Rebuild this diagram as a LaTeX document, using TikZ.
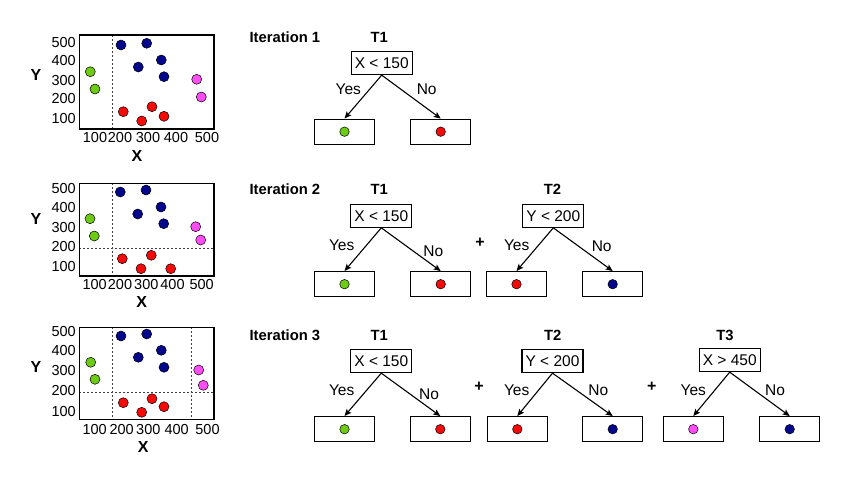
\documentclass[tikz,border=0pt]{standalone}
\usepackage{fontspec}
\setmainfont{Liberation Sans}
\usetikzlibrary{arrows.meta}
\definecolor{dgreen}{HTML}{6CCB12}
\definecolor{dblue}{HTML}{04068C}
\definecolor{dred}{HTML}{F50A0A}
\definecolor{dmag}{HTML}{FF4DF5}
\begin{document}
\begin{tikzpicture}[x=1pt,y=-1pt,
  dot/.style={circle, draw=black, line width=0.5pt, inner sep=0pt, minimum size=10pt},
  ldot/.style={circle, draw=black, line width=0.5pt, inner sep=0pt, minimum size=9.5pt},
  frame/.style={draw, line width=1.4pt},
  sepline/.style={dash pattern=on 2pt off 2pt, line width=0.8pt, black!75},
  tick/.style={inner sep=0pt, font=\fontsize{14.5}{16}\selectfont},
  axl/.style={inner sep=0pt, font=\bfseries\fontsize{16}{18}\selectfont},
  ttl/.style={inner sep=0pt, font=\bfseries\fontsize{14.8}{17}\selectfont},
  cond/.style={draw, line width=1.3pt, minimum width=61pt, minimum height=23pt, inner sep=0pt, font=\fontsize{15.5}{18}\selectfont},
  leaf/.style={draw, line width=1.3pt, minimum width=60pt, minimum height=25pt, inner sep=0pt},
  lab/.style={inner sep=0pt, font=\fontsize{15.5}{18}\selectfont},
  plus/.style={inner sep=0pt, font=\bfseries\fontsize{16}{18}\selectfont},
  arr/.style={-{Stealth[length=7pt,width=6pt,inset=1.5pt]}, line width=1.1pt}]
\useasboundingbox (0,0) rectangle (850,479);
\fill[white] (0,0) rectangle (850,479);

% ---------------- Plot 1 ----------------
\draw[sepline] (112.7,35) -- (112.7,129);
\draw[frame] (79.3,35) rectangle (214,129);
\foreach \v/\y in {500/42.7,400/60.7,300/80.7,200/99,100/119}
  \node[tick, anchor=east] (p1y\v) at (76,\y) {\v};
\foreach \v/\x in {100/95,200/120,300/148,400/176,500/207}
  \node[tick] (p1x\v) at (\x,138) {\v};
\node[axl] (p1Y) at (36,75) {Y};
\node[axl] (p1X) at (137,156) {X};
\node[dot, fill=dgreen] (a1) at (90.3,71.7) {};
\node[dot, fill=dgreen] (a2) at (95,89) {};
\node[dot, fill=dblue] (a3) at (121,45) {};
\node[dot, fill=dblue] (a4) at (146.7,43.3) {};
\node[dot, fill=dblue] (a5) at (161.3,60) {};
\node[dot, fill=dblue] (a6) at (138.3,67) {};
\node[dot, fill=dblue] (a7) at (164,76.7) {};
\node[dot, fill=dmag] (a8) at (196.7,79.3) {};
\node[dot, fill=dmag] (a9) at (201.3,97) {};
\node[dot, fill=dred] (a10) at (123.3,111.7) {};
\node[dot, fill=dred] (a11) at (152,106.7) {};
\node[dot, fill=dred] (a12) at (141.7,121) {};
\node[dot, fill=dred] (a13) at (164,116.3) {};

% ---------------- Plot 2 ----------------
\draw[sepline] (112.7,183.3) -- (112.7,276);
\draw[sepline] (79.3,248) -- (214,248);
\draw[frame] (79.3,183.3) rectangle (214,276);
\foreach \v/\y in {500/188.3,400/207.7,300/227.3,200/246.7,100/266.7}
  \node[tick, anchor=east] (p2y\v) at (76,\y) {\v};
\foreach \v/\x in {100/94.7,200/120,300/146.3,400/172.5,500/201.7}
  \node[tick] (p2x\v) at (\x,285) {\v};
\node[axl] (p2Y) at (36,219) {Y};
\node[axl] (p2X) at (141.7,301.7) {X};
\node[dot, fill=dgreen] (b1) at (90,218.7) {};
\node[dot, fill=dgreen] (b2) at (94.3,236) {};
\node[dot, fill=dblue] (b3) at (120.3,192) {};
\node[dot, fill=dblue] (b4) at (146,190) {};
\node[dot, fill=dblue] (b5) at (161,207) {};
\node[dot, fill=dblue] (b6) at (137.7,214) {};
\node[dot, fill=dblue] (b7) at (163.7,223.7) {};
\node[dot, fill=dmag] (b8) at (195.7,226.7) {};
\node[dot, fill=dmag] (b9) at (200.7,240) {};
\node[dot, fill=dred] (b10) at (122.3,258.7) {};
\node[dot, fill=dred] (b11) at (151.3,255.3) {};
\node[dot, fill=dred] (b12) at (141,268.7) {};
\node[dot, fill=dred] (b13) at (170.7,268.7) {};

% ---------------- Plot 3 ----------------
\draw[sepline] (112.7,327.3) -- (112.7,419.3);
\draw[sepline] (191.7,327.3) -- (191.7,419.3);
\draw[sepline] (79.3,392.3) -- (214,392.3);
\draw[frame] (79.3,327.3) rectangle (214,419.3);
\foreach \v/\y in {500/331.7,400/350.3,300/370.7,200/390.7,100/411.7}
  \node[tick, anchor=east] (p3y\v) at (76,\y) {\v};
\foreach \v/\x in {100/94.7,200/121.7,300/148.3,400/176.7,500/207.5}
  \node[tick] (p3x\v) at (\x,430) {\v};
\node[axl] (p3Y) at (36,367) {Y};
\node[axl] (p3X) at (143.3,447.3) {X};
\node[dot, fill=dgreen] (c1) at (90.7,362.3) {};
\node[dot, fill=dgreen] (c2) at (95,379.3) {};
\node[dot, fill=dblue] (c3) at (121,336) {};
\node[dot, fill=dblue] (c4) at (146.7,334) {};
\node[dot, fill=dblue] (c5) at (161.3,350.3) {};
\node[dot, fill=dblue] (c6) at (138.3,357.3) {};
\node[dot, fill=dblue] (c7) at (164,367.3) {};
\node[dot, fill=dmag] (c8) at (198.7,370) {};
\node[dot, fill=dmag] (c9) at (203.3,385.3) {};
\node[dot, fill=dred] (c10) at (123.3,402.7) {};
\node[dot, fill=dred] (c11) at (152,398.7) {};
\node[dot, fill=dred] (c12) at (141.7,412.3) {};
\node[dot, fill=dred] (c13) at (164,406.7) {};

% ---------------- Iteration 1 ----------------
\node[ttl, anchor=west] (it1) at (249.3,37.3) {Iteration 1};
\node[ttl] (t11) at (379.3,37.3) {T1};
\node[cond] (q11) at (381.7,63) {X < 150};
\node[leaf] (l11a) at (344.5,131.7) {};
\node[leaf] (l11b) at (440.7,131.7) {};
\node[ldot, fill=dgreen] (d11a) at (l11a) {};
\node[ldot, fill=dred] (d11b) at (l11b) {};
\draw[arr] (q11.south) -- (l11a.north);
\draw[arr] (q11.south) -- (l11b.north);
\node[lab] (y11) at (348.3,89.3) {Yes};
\node[lab] (n11) at (426.7,89.3) {No};

% ---------------- Iteration 2 ----------------
\node[ttl, anchor=west] (it2) at (249.3,189.3) {Iteration 2};
\node[ttl] (t21) at (379.3,189.3) {T1};
\node[cond] (q21) at (381.3,215.7) {X < 150};
\node[leaf] (l21a) at (344.5,284.2) {};
\node[leaf] (l21b) at (440.7,284.2) {};
\node[ldot, fill=dgreen] (d21a) at (l21a) {};
\node[ldot, fill=dred] (d21b) at (l21b) {};
\draw[arr] (q21.south) -- (l21a.north);
\draw[arr] (q21.south) -- (l21b.north);
\node[lab] (y21) at (341.7,245) {Yes};
\node[lab] (n21) at (433.3,251.7) {No};
\node[plus] (pl21) at (480,242.7) {+};
\node[ttl] (t22) at (552.5,189.3) {T2};
\node[cond] (q22) at (553.3,215.7) {Y < 200};
\node[leaf] (l22a) at (516.5,284.2) {};
\node[leaf] (l22b) at (612.7,284.2) {};
\node[ldot, fill=dred] (d22a) at (l22a) {};
\node[ldot, fill=dblue] (d22b) at (l22b) {};
\draw[arr] (q22.south) -- (l22a.north);
\draw[arr] (q22.south) -- (l22b.north);
\node[lab] (y22) at (516.7,245) {Yes};
\node[lab] (n22) at (601.7,246.7) {No};

% ---------------- Iteration 3 ----------------
\node[ttl, anchor=west] (it3) at (249.3,335) {Iteration 3};
\node[ttl] (t31) at (379.3,335) {T1};
\node[cond] (q31) at (381.3,361) {X < 150};
\node[leaf] (l31a) at (344.5,429.2) {};
\node[leaf] (l31b) at (440.3,429.2) {};
\node[ldot, fill=dgreen] (d31a) at (l31a) {};
\node[ldot, fill=dred] (d31b) at (l31b) {};
\draw[arr] (q31.south) -- (l31a.north);
\draw[arr] (q31.south) -- (l31b.north);
\node[lab] (y31) at (341.7,390.7) {Yes};
\node[lab] (n31) at (429,394) {No};
\node[plus] (pl31) at (479,387) {+};
\node[ttl] (t32) at (552.7,335) {T2};
\node[cond] (q32) at (552.5,361) {Y < 200};
\node[leaf] (l32a) at (517.3,429.2) {};
\node[leaf] (l32b) at (612.7,429.2) {};
\node[ldot, fill=dred] (d32a) at (l32a) {};
\node[ldot, fill=dblue] (d32b) at (l32b) {};
\draw[arr] (q32.south) -- (l32a.north);
\draw[arr] (q32.south) -- (l32b.north);
\node[lab] (y32) at (516.7,390) {Yes};
\node[lab] (n32) at (598.3,390) {No};
\node[plus] (pl32) at (651.7,387) {+};
\node[ttl] (t33) at (725,335) {T3};
\node[cond] (q33) at (729.7,360) {X > 450};
\node[leaf] (l33a) at (693.3,429.2) {};
\node[leaf] (l33b) at (789.7,429.2) {};
\node[ldot, fill=dmag] (d33a) at (l33a) {};
\node[ldot, fill=dblue] (d33b) at (l33b) {};
\draw[arr] (q33.south) -- (l33a.north);
\draw[arr] (q33.south) -- (l33b.north);
\node[lab] (y33) at (693.3,390) {Yes};
\node[lab] (n33) at (775,390) {No};
\end{tikzpicture}
\end{document}
